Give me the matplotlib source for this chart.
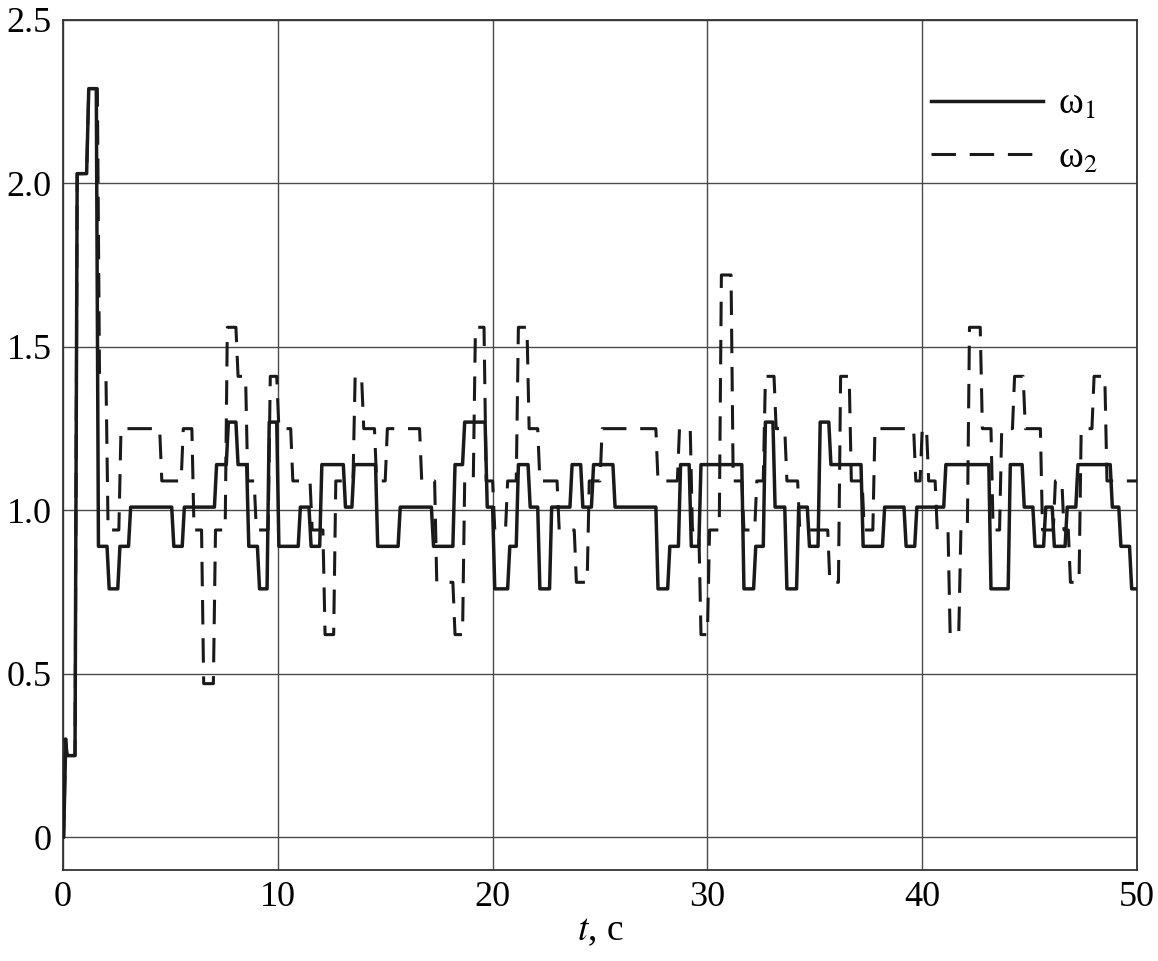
import numpy as np
import matplotlib

matplotlib.use("Agg")
import matplotlib.pyplot as plt

plt.rcParams.update({
    "font.family": "Liberation Serif",
    "mathtext.fontset": "stix",
    "font.size": 24,
})

# switching times (s) and levels
t_w1 = [0, 0.03, 0.1, 0.56, 1.10, 1.55, 2.05, 2.55, 3.05, 5.06, 5.55, 7.05, 7.6, 8.05,
        8.55, 9.05, 9.5, 9.95, 10.95, 11.45, 11.95, 13.05, 13.45, 14.55, 15.6, 17.15,
        18.15, 18.6, 19.65, 20.0, 20.7, 21.1, 21.65, 22.1, 22.65, 23.6, 24.1, 24.6, 25.6,
        27.6, 28.15, 28.65, 29.15, 29.6, 31.6, 32.15, 32.6, 33.05, 33.6, 34.15, 34.65,
        35.15, 35.65, 37.15, 38.15, 39.15, 39.65, 41.0, 43.1, 44.0, 44.65, 45.15, 45.65,
        46.05, 46.65, 47.15, 48.75, 49.15, 49.65]
v_w1 = [0.0, 0.30, 0.25, 2.03, 2.29, 0.89, 0.76, 0.89, 1.01, 0.89, 1.01, 1.14, 1.27, 1.14,
        0.89, 0.76, 1.27, 0.89, 1.01, 0.89, 1.14, 1.01, 1.14, 0.89, 1.01, 0.89,
        1.14, 1.27, 1.01, 0.76, 0.89, 1.14, 1.01, 0.76, 1.01, 1.14, 1.01, 1.14, 1.01,
        0.76, 0.89, 1.14, 0.89, 1.14, 0.76, 0.89, 1.27, 1.01, 0.76, 1.01, 0.89,
        1.27, 1.14, 0.89, 1.01, 0.89, 1.01, 1.14, 0.76, 1.14, 1.01, 0.89, 1.01,
        0.89, 1.01, 1.14, 1.01, 0.89, 0.76]

t_w2 = [0, 0.03, 0.1, 0.56, 1.10, 1.6, 2.0, 2.6, 4.5, 5.5, 6.0, 6.45, 7.0, 7.55, 8.05,
        8.5, 8.9, 9.55, 9.95, 10.6, 11.0, 11.5, 12.1, 12.6, 13.5, 13.9, 14.5, 15.0,
        16.6, 17.3, 18.15, 18.6, 19.1, 19.6, 20.0, 20.6, 21.1, 21.6, 22.1, 23.0, 23.8,
        24.4, 25.0, 27.6, 28.6, 29.2, 29.6, 30.0, 30.55, 31.1, 31.6, 32.2, 32.6, 33.1,
        33.6, 34.2, 35.6, 36.1, 36.6, 37.2, 37.7, 39.6, 39.9, 40.2, 40.6, 41.2, 41.7,
        42.1, 42.7, 43.2, 43.6, 44.2, 44.7, 45.5, 46.1, 46.5, 46.8, 47.3, 47.9, 48.5]
v_w2 = [0.0, 0.30, 0.25, 2.03, 2.29, 1.41, 0.94, 1.25, 1.09, 1.25, 0.94, 0.47, 0.94, 1.56, 1.41,
        1.09, 0.94, 1.41, 1.25, 1.09, 1.09, 0.94, 0.62, 1.09, 1.41, 1.25, 1.09, 1.25,
        1.09, 0.78, 0.62, 1.09, 1.56, 1.09, 0.94, 1.09, 1.56, 1.25, 1.09, 0.94, 0.78,
        1.09, 1.25, 1.09, 1.25, 0.94, 0.62, 0.94, 1.72, 1.09, 0.94, 1.09, 1.41, 1.25,
        1.09, 0.94, 0.78, 1.41, 1.09, 0.94, 1.25, 1.09, 1.25, 1.09, 0.94, 0.62, 0.94,
        1.56, 1.25, 0.94, 1.25, 1.41, 1.25, 0.94, 1.09, 0.94, 0.78, 1.25, 1.41, 1.09]

T_END = 50.0
RAMP = 0.1  # transitions in the original are slightly sloped


def ramped(t, v):
    xs, ys = [], []
    edges = list(t[1:]) + [T_END]
    for i, (start, val) in enumerate(zip(t, v)):
        xs += [start + (RAMP if i else 0), edges[i]]
        ys += [val, val]
    return np.array(xs), np.array(ys)


fig = plt.figure(figsize=(11.58, 9.61), dpi=100)
ax = fig.add_axes([0.0544, 0.0947, 0.9275, 0.8845])

x1, y1 = ramped(t_w1, v_w1)
x2, y2 = ramped(t_w2, v_w2)
ax.plot(x2, y2, color="#1a1a1a", lw=2.2, dashes=(8, 4.5), label="ω$_2$", zorder=3)
ax.plot(x1, y1, color="#1a1a1a", lw=2.5, label="ω$_1$", zorder=4)

ax.set_xlim(0, 50)
ax.set_ylim(-0.1, 2.5)
ax.set_xticks(range(0, 51, 10))
ax.set_yticks([0, 0.5, 1.0, 1.5, 2.0, 2.5])
ax.set_yticklabels(["0", "0.5", "1.0", "1.5", "2.0", "2.5"])
ax.tick_params(length=0, pad=8, labelsize=26)
ax.grid(color="#4a4a4a", lw=1.0)
ax.set_axisbelow(True)
for s in ax.spines.values():
    s.set_color("#333333")
    s.set_linewidth(1.3)

ax.set_xlabel(r"$t$, c", fontsize=27, labelpad=0)

h, l = ax.get_legend_handles_labels()
ax.legend(h[::-1], l[::-1], loc="upper right", frameon=False, fontsize=27,
          handlelength=3.0, handletextpad=0.4, labelspacing=0.5,
          bbox_to_anchor=(0.995, 0.96))

fig.savefig("out.png", dpi=100)
